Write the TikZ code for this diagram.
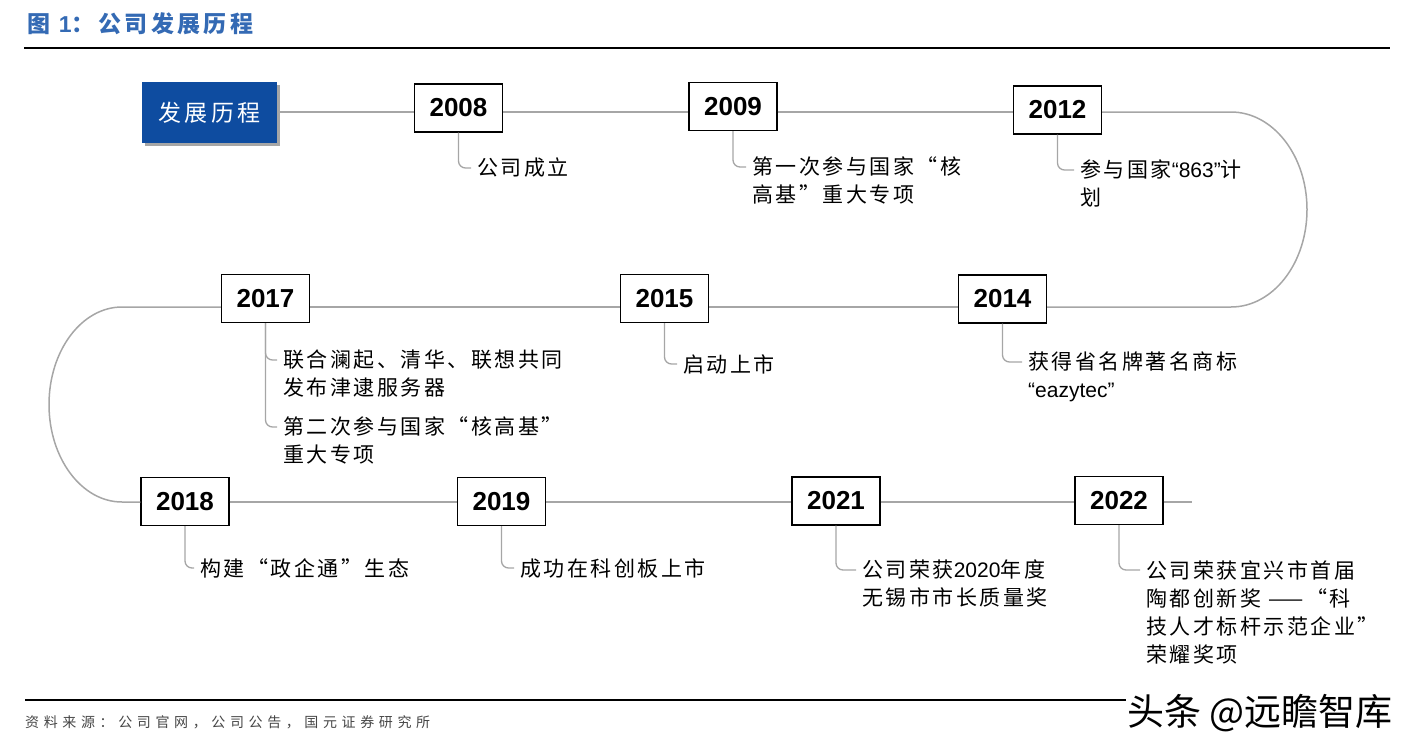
\documentclass[tikz,border=0pt]{standalone}
\usepackage{fontspec}
\setmainfont{Liberation Sans}
\newfontfamily\cjk[LetterSpace=12]{Noto Sans CJK SC}
\newfontfamily\cjkplain{Noto Sans CJK SC}
\newfontfamily\cjktitle[LetterSpace=15]{Noto Sans CJK SC}
\newfontfamily\cjkwide[LetterSpace=14]{Noto Sans CJK SC}
\newfontfamily\cjksrc[LetterSpace=33]{Noto Sans CJK SC}
\newfontfamily\yearfont{Liberation Sans}
\newfontfamily\lat{Liberation Sans}
\usetikzlibrary{shadows}
\definecolor{titleblue}{RGB}{52,106,180}
\definecolor{boxblue}{RGB}{14,76,160}
\definecolor{trackgray}{RGB}{166,166,166}
\definecolor{srcgray}{RGB}{70,70,70}
\tikzset{
  yearbox/.style={draw=black, line width=1.3pt, fill=white, minimum width=88, minimum height=48, inner sep=0,
    font=\yearfont\bfseries\fontsize{26}{26}\selectfont},
  desc/.style={inner sep=0, anchor=north west, align=left, font=\cjk\fontsize{21}{28}\selectfont},
  track/.style={draw=trackgray, line width=1.5pt},
  leader/.style={draw=trackgray, line width=1.3pt, rounded corners=7pt},
}
\begin{document}
\begin{tikzpicture}[x=1pt,y=-1pt]
\useasboundingbox (0,0) rectangle (1411,750);
% title
\node[anchor=west, inner sep=0, text=titleblue, font=\cjktitle\bfseries\fontsize{23}{23}\selectfont] (title) at (27,24) {图 {\lat\bfseries 1}：公司发展历程};
\draw[line width=2pt] (24,47.5) -- (1390,47.5);
% start box
\node[fill=boxblue, minimum width=135, minimum height=61, inner sep=0, text=white,
  font=\cjkwide\fontsize{23}{23}\selectfont,
  drop shadow={shadow xshift=3pt, shadow yshift=-3pt, opacity=0.35, fill=black}] (start) at (209.5,112.5) {发展历程};
% year boxes
\node[yearbox] (y2008) at (458.5,108) {2008};
\node[yearbox] (y2009) at (733,106.5) {2009};
\node[yearbox] (y2012) at (1057.5,110) {2012};
\node[yearbox] (y2014) at (1002.5,299) {2014};
\node[yearbox] (y2015) at (664.5,298.5) {2015};
\node[yearbox] (y2017) at (265.5,298.5) {2017};
\node[yearbox] (y2018) at (185,501.5) {2018};
\node[yearbox] (y2019) at (501.5,501.5) {2019};
\node[yearbox] (y2021) at (836,501) {2021};
\node[yearbox] (y2022) at (1119,500.5) {2022};
\coordinate (tailend) at (1192,502);
% track
\draw[track] (start.east |- 0,112) -- (y2008.west |- 0,112);
\draw[track] (y2008.east |- 0,112) -- (y2009.west |- 0,112);
\draw[track] (y2009.east |- 0,112) -- (y2012.west |- 0,112);
\draw[track] (y2012.east |- 0,112) -- (1231,112)
  .. controls (1273,112) and (1307,155.65) .. (1307,209.5)
  .. controls (1307,263.35) and (1273,307) .. (1231,307)
  -- (y2014.east |- 0,307);
\draw[track] (y2014.west |- 0,307) -- (y2015.east |- 0,307);
\draw[track] (y2015.west |- 0,307) -- (y2017.east |- 0,307);
\draw[track] (y2017.west |- 0,307) -- (122,307)
  .. controls (81.7,307) and (49,350.65) .. (49,404.5)
  .. controls (49,458.35) and (81.7,502) .. (122,502)
  -- (y2018.west |- 0,502);
\draw[track] (y2018.east |- 0,502) -- (y2019.west |- 0,502);
\draw[track] (y2019.east |- 0,502) -- (y2021.west |- 0,502);
\draw[track] (y2021.east |- 0,502) -- (y2022.west |- 0,502);
\draw[track] (y2022.east |- 0,502) -- (tailend);
% descriptions
\node[desc] (d2008) at (477,158) {公司成立};
\node[desc] (d2009) at (752,157) {第一次参与国家“核\\高基”重大专项};
\node[desc] (d2012) at (1080,160) {参与国家{\lat “863”}计\\划};
\node[desc] (d2014) at (1028,352) {获得省名牌著名商标\\{\lat “eazytec”}};
\node[desc] (d2015) at (683,354) {启动上市};
\node[desc] (d2017a) at (283,350) {联合澜起、清华、联想共同\\发布津逮服务器};
\node[desc] (d2017b) at (283,417) {第二次参与国家“核高基”\\重大专项};
\node[desc] (d2018) at (200,558) {构建“政企通”生态};
\node[desc] (d2019) at (520,558) {成功在科创板上市};
\node[desc] (d2021) at (862,560) {公司荣获{\lat 2020}年度\\无锡市市长质量奖};
\node[desc] (d2022) at (1146,560) {公司荣获宜兴市首届\\陶都创新奖 ——“科\\技人才标杆示范企业”\\荣耀奖项};
% leaders
\draw[leader] (y2008.south) |- ([xshift=-6pt,yshift=-10pt]d2008.north west);
\draw[leader] (y2009.south) |- ([xshift=-6pt,yshift=-10pt]d2009.north west);
\draw[leader] (y2012.south) |- ([xshift=-6pt,yshift=-10pt]d2012.north west);
\draw[leader] (y2014.south) |- ([xshift=-6pt,yshift=-10pt]d2014.north west);
\draw[leader] (y2015.south) |- ([xshift=-6pt,yshift=-10pt]d2015.north west);
\draw[leader] (y2017.south) |- ([xshift=-6pt,yshift=-10pt]d2017a.north west);
\draw[leader] (y2017.south) |- ([xshift=-6pt,yshift=-10pt]d2017b.north west);
\draw[leader] (y2018.south) |- ([xshift=-6pt,yshift=-10pt]d2018.north west);
\draw[leader] (y2019.south) |- ([xshift=-6pt,yshift=-10pt]d2019.north west);
\draw[leader] (y2021.south) |- ([xshift=-6pt,yshift=-10pt]d2021.north west);
\draw[leader] (y2022.south) |- ([xshift=-6pt,yshift=-10pt]d2022.north west);
% footer
\draw[line width=2.5pt] (25,700) -- (1390,700);
\node[anchor=west, inner sep=0, text=srcgray, font=\cjksrc\fontsize{14}{14}\selectfont] (src) at (25,722) {资料来源：公司官网，公司公告，国元证券研究所};
\node[anchor=west, inner sep=1, fill=white, font=\cjkplain\fontsize{37}{37}\selectfont] (wm) at (1126,713) {头条 @远瞻智库};
\end{tikzpicture}
\end{document}
